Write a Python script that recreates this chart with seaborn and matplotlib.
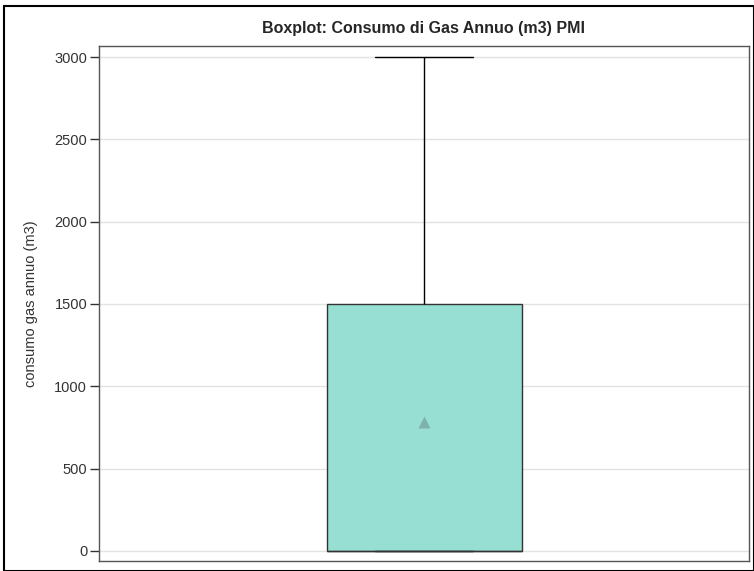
import matplotlib
matplotlib.use("Agg")
import matplotlib.pyplot as plt
import seaborn as sns
import pandas as pd
from matplotlib.patches import Rectangle

consumo_gas = [0, 0, 0, 0, 0, 0, 0, 500, 1200, 1500, 1500, 2500, 3000]
y_ticks = [0, 500, 1000, 1500, 2000, 2500, 3000]

df = pd.DataFrame({"consumo": consumo_gas})

sns.set_style("white")
plt.rcParams['font.family'] = ['Liberation Sans', 'DejaVu Sans']

fig = plt.figure(figsize=(7.54, 5.71), dpi=100)
ax = fig.add_axes([99 / 754, 1 - 561 / 571, 650 / 754, 515 / 571])

sns.boxplot(y="consumo", data=df, ax=ax, width=0.3, whis=1.5,
            color="#97ded3", saturation=1, showmeans=True, showfliers=False,
            boxprops=dict(edgecolor="#333333", linewidth=1),
            whiskerprops=dict(color="black", linewidth=1),
            capprops=dict(color="black", linewidth=1),
            medianprops=dict(color="#333333", linewidth=1),
            meanprops=dict(marker="^", markerfacecolor="#80b2ad",
                           markeredgecolor="none", markersize=8))

ax.set_xlim(-0.5, 0.5)
ax.set_ylim(-62, 3067)
ax.set_yticks(y_ticks)
ax.set_yticklabels([str(t) for t in y_ticks], fontsize=10.5, color="#333333")
ax.tick_params(axis="y", direction="out", length=6.5, width=1, pad=2,
               color="#333333", left=True)
ax.tick_params(axis="x", bottom=False, labelbottom=False)
ax.set_xlabel("")
ax.set_ylabel("consumo gas annuo (m3)", fontsize=10.5, color="#333333", labelpad=12)
ax.yaxis.grid(True, color="#e3e3e3", linewidth=1)
ax.set_axisbelow(True)
for s in ax.spines.values():
    s.set_visible(True)
    s.set_color("#555555")
    s.set_linewidth(1)

ax.set_title("Boxplot: Consumo di Gas Annuo (m3) PMI", fontsize=11.5,
             fontweight="bold", pad=9)

# outer border around the figure
fig.patches.append(Rectangle((4 / 754, 0), 1 - 4 / 754, 1 - 6 / 571,
                             transform=fig.transFigure, fill=False,
                             edgecolor="black", linewidth=1.5))

fig.savefig("out.png", dpi=100)
